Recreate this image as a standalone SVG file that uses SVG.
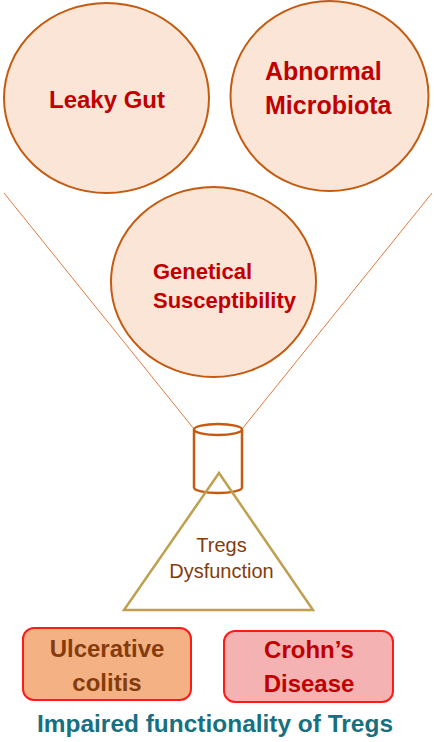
<svg xmlns="http://www.w3.org/2000/svg" width="434" height="742" viewBox="0 0 434 742">
<style>
.circ{fill:#fbe5d6;stroke:#c55a11;stroke-width:2}
.ctext{font-family:"Liberation Sans",Arial,sans-serif;font-weight:bold;fill:#c00000}
.conn{stroke:#e07a3a;stroke-width:1;fill:none}
.box{stroke:#ff1a1a;stroke-width:2}
.btext{font-family:"Liberation Sans",Arial,sans-serif;font-weight:bold;font-size:24px;text-anchor:middle}
</style>
<rect width="434" height="742" fill="#ffffff"/>
<g id="connectors">
<line class="conn" x1="4" y1="193" x2="194" y2="429"/>
<line class="conn" x1="432" y1="193" x2="242" y2="429"/>
</g>
<g id="leaky-gut">
<ellipse class="circ" cx="106.5" cy="98" rx="102.5" ry="95"/>
<text class="ctext" x="107" y="108" font-size="24" text-anchor="middle">Leaky Gut</text>
</g>
<g id="abnormal-microbiota">
<ellipse class="circ" cx="329.5" cy="96" rx="99" ry="95"/>
<text class="ctext" x="265" y="80" font-size="25">Abnormal</text>
<text class="ctext" x="265" y="114" font-size="25">Microbiota</text>
</g>
<g id="genetical-susceptibility">
<ellipse class="circ" cx="213.5" cy="282" rx="102.5" ry="95"/>
<text class="ctext" x="153" y="279" font-size="22">Genetical</text>
<text class="ctext" x="153" y="308" font-size="22">Susceptibility</text>
</g>
<g id="cylinder" fill="none" stroke="#c55a11" stroke-width="2.5">
<path d="M194,429.5 V487.5 A24,5.5 0 0 0 242,487.5 V429.5"/>
<ellipse cx="218" cy="429.5" rx="24" ry="5.5"/>
</g>
<g id="tregs-dysfunction">
<polygon points="219,473 124,610 313,610" fill="none" stroke="#c0a050" stroke-width="2.5"/>
<text x="221.5" y="552" font-family="'Liberation Sans',Arial,sans-serif" font-size="20" fill="#843c0c" text-anchor="middle">Tregs</text>
<text x="221.5" y="578" font-family="'Liberation Sans',Arial,sans-serif" font-size="20" fill="#843c0c" text-anchor="middle">Dysfunction</text>
</g>
<g id="ulcerative-colitis">
<rect class="box" x="23" y="628" width="168" height="72" rx="11" fill="#f4b183"/>
<text class="btext" x="107" y="657" fill="#843c0c">Ulcerative</text>
<text class="btext" x="107" y="691" fill="#843c0c">colitis</text>
</g>
<g id="crohns-disease">
<rect class="box" x="224" y="631" width="169" height="71" rx="11" fill="#f4b2b2"/>
<text class="btext" x="309" y="658" fill="#c00000">Crohn’s</text>
<text class="btext" x="309" y="692" fill="#c00000">Disease</text>
</g>
<g id="caption">
<text x="215" y="732" font-family="'Liberation Sans',Arial,sans-serif" font-weight="bold" font-size="24" fill="#17707f" text-anchor="middle" textLength="356" lengthAdjust="spacingAndGlyphs">Impaired functionality of Tregs</text>
</g>
</svg>
